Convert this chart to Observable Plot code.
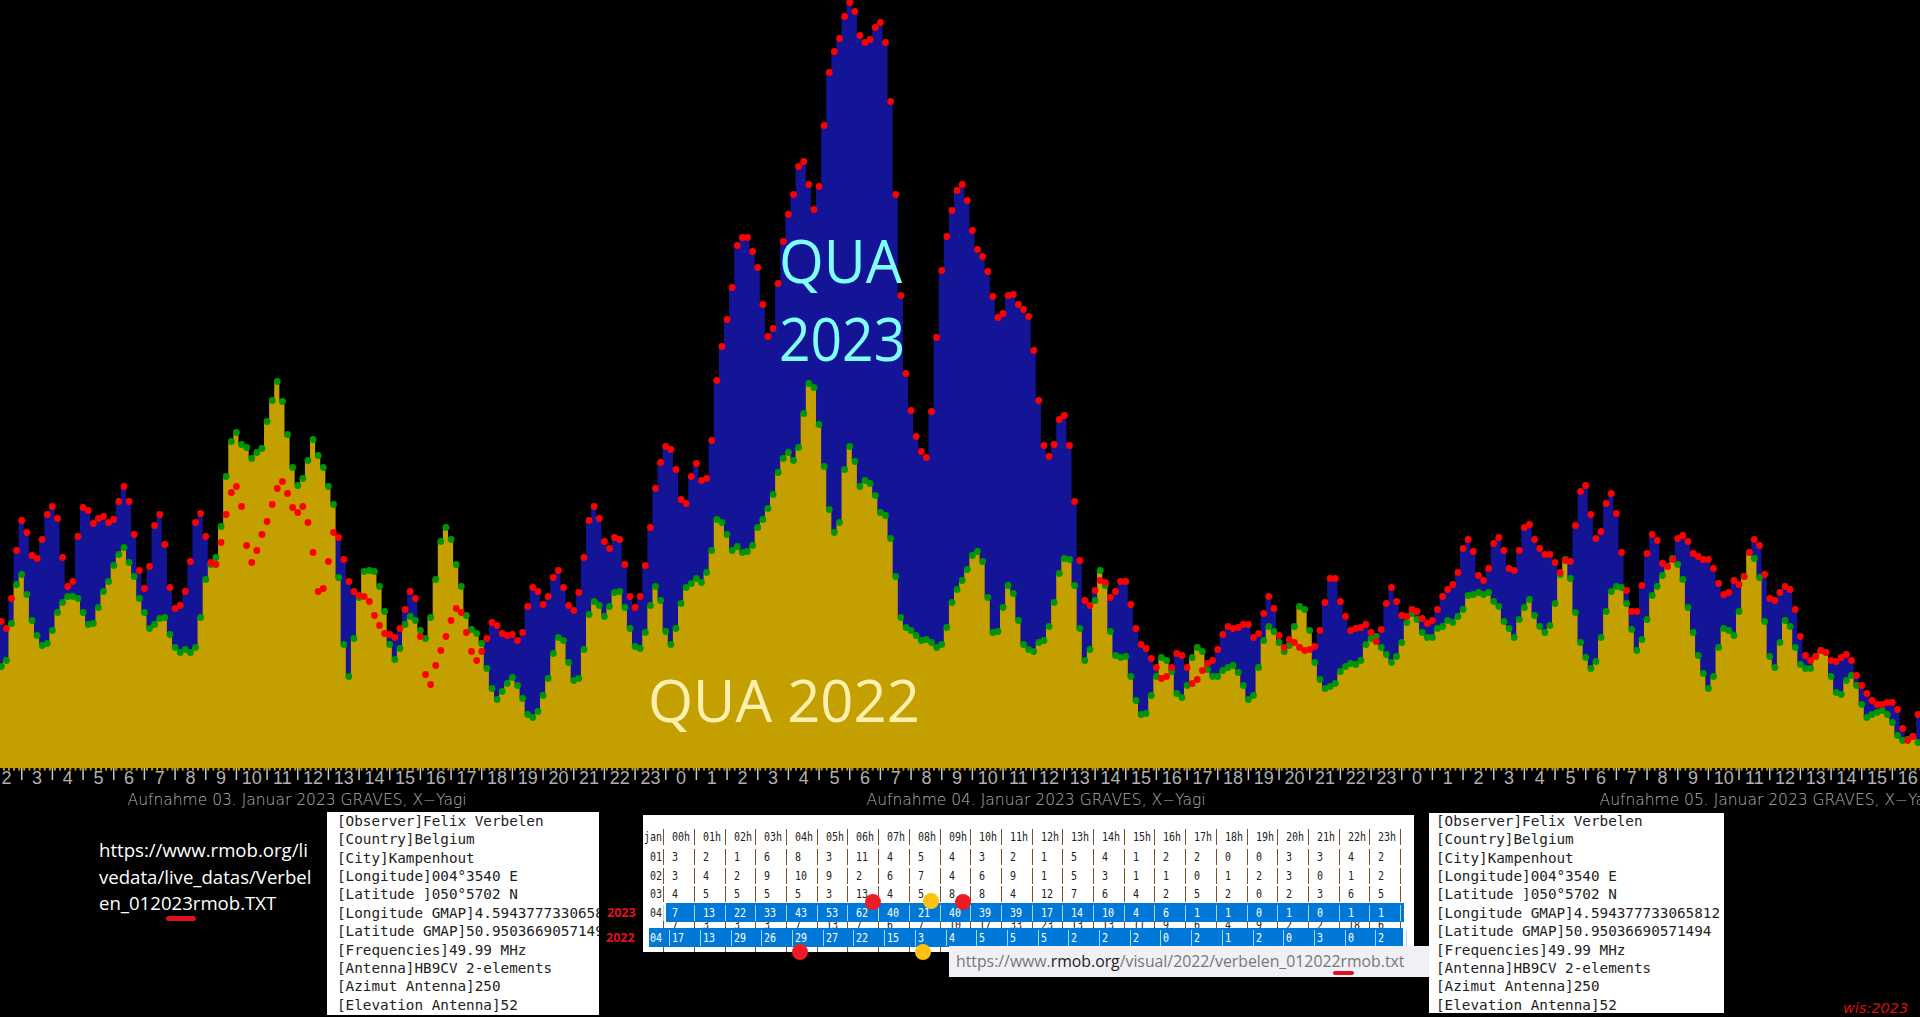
<!DOCTYPE html>
<html><head><meta charset="utf-8">
<script src="https://cdn.jsdelivr.net/npm/d3@7"></script>
<script src="https://cdn.jsdelivr.net/npm/@observablehq/plot@0.6"></script>
<style>
html,body{margin:0;padding:0;background:#000;width:1920px;height:1017px;overflow:hidden}
#chart{position:absolute;left:0;top:0}
.abs{position:absolute}
.panel{position:absolute;background:#fff;overflow:hidden;font-family:"DejaVu Sans Mono",monospace;color:#222}
.panel div{position:absolute;white-space:pre}
.cell{position:absolute;white-space:pre;font:13px/14px "DejaVu Sans Mono",monospace;transform:scaleX(.77);transform-origin:left center}
.sep{position:absolute;width:1px}
.qua{position:absolute;font-family:"Open Sans",sans-serif;font-weight:400;white-space:pre;transform-origin:left center}
</style></head><body>
<div id="chart"></div>
<script>
const h2023=[147,140,170,218,248,236,213,210,229,254,262,250,211,182,187,232,261,258,245,250,252,246,249,267,282,267,234,198,180,202,243,254,224,181,160,163,177,207,246,255,232,206,204,226,254,276,282,262,223,206,218,234,247,264,280,287,275,261,256,262,246,216,177,180,207,236,231,209,187,177,173,172,167,153,143,135,134,131,140,159,177,170,132,94,84,103,118,132,148,160,156,136,117,108,117,130,146,143,135,133,134,128,136,162,181,177,164,172,191,198,181,163,158,176,211,248,262,250,227,220,231,229,204,172,161,172,
203,241,280,306,322,319,299,269,265,292,305,288,290,328,388,422,449,481,523,531,531,517,501,464,432,440,485,527,554,574,602,607,584,559,582,643,696,717,730,752,766,757,733,726,729,741,746,726,667,574,473,395,358,332,317,311,357,431,498,532,558,578,584,568,538,519,512,497,472,451,455,473,474,464,459,452,418,368,323,312,324,349,353,323,267,208,168,163,178,188,186,171,177,187,187,164,140,124,120,110,101,90,92,101,115,113,101,85,89,98,105,108,119,134,142,140,141,144,144,131,135,155,172,160,133,
121,129,126,121,118,119,122,138,166,190,190,167,152,138,140,141,144,136,127,139,165,181,167,153,152,159,157,150,145,148,159,172,179,184,196,220,229,217,193,188,200,225,231,218,200,198,218,241,244,229,220,214,214,206,196,208,207,243,277,283,254,230,237,265,275,255,216,178,157,157,183,215,234,228,205,202,209,230,233,227,215,212,209,209,200,185,174,176,188,184,192,216,229,223,194,170,168,176,182,179,159,132,113,108,112,118,116,108,107,111,114,108,93,83,75,68,64,64,66,66,59,40,28,32,54];
const h2022=[102,108,145,184,194,174,148,133,123,125,138,156,166,172,172,170,156,144,145,161,177,187,203,214,221,206,192,170,156,140,144,150,151,134,121,116,119,116,121,151,189,204,211,242,292,327,336,324,321,310,316,320,347,368,387,367,334,301,283,290,308,329,313,301,282,264,191,124,92,130,171,197,198,197,182,157,124,109,120,144,152,148,138,130,151,189,227,241,229,204,182,153,139,135,125,100,80,69,77,85,91,83,70,54,51,57,73,90,115,131,128,106,88,90,119,154,167,163,152,162,176,177,161,140,122,120,
136,163,182,168,137,124,140,165,181,185,190,186,196,218,249,246,234,218,222,216,217,223,241,249,260,274,296,310,316,308,321,355,385,381,344,302,259,236,246,299,322,307,282,288,285,273,256,253,230,192,151,141,138,133,128,129,126,121,124,141,166,179,188,199,213,217,207,171,136,137,161,183,175,148,124,119,117,126,128,142,166,195,210,209,183,140,108,119,168,198,183,137,113,111,112,92,68,54,55,73,92,111,108,97,75,71,83,111,121,117,99,92,92,98,101,103,96,83,69,73,101,128,142,137,126,
117,123,142,162,159,138,106,89,80,82,85,97,102,105,104,108,124,130,132,121,114,106,112,126,146,155,149,136,131,131,140,142,148,146,152,159,173,174,176,174,176,167,162,147,140,131,149,161,169,153,142,136,143,165,194,209,190,156,126,111,100,107,131,157,177,182,181,165,139,118,129,149,173,182,193,202,210,204,189,161,136,113,95,80,92,121,140,138,133,157,192,216,210,191,147,112,101,126,148,142,121,104,100,100,112,118,116,92,76,74,88,93,83,64,51,54,56,58,54,46,33,28,29,32,26];
const hourLabels=[2,3,4,5,6,7,8,9,10,11,12,13,14,15,16,17,18,19,20,21,22,23,0,1,2,3,4,5,6,7,8,9,10,11,12,13,14,15,16,17,18,19,20,21,22,23,0,1,2,3,4,5,6,7,8,9,10,11,12,13,14,15,16];
const captions=["Aufnahme 03. Januar 2023 GRAVES, X\u2212Yagi","Aufnahme 04. Januar 2023 GRAVES, X\u2212Yagi","Aufnahme 05. Januar 2023 GRAVES, X\u2212Yagi"];
const captionBins=[24.7,169.3,312.7];
const infoRight=["[Observer]Felix Verbelen","[Country]Belgium","[City]Kampenhout","[Longitude]004\u00b03540 E","[Latitude ]050\u00b05702 N","[Longitude GMAP]4.594377733065812","[Latitude GMAP]50.95036690571494","[Frequencies]49.99 MHz","[Antenna]HB9CV 2-elements","[Azimut Antenna]250","[Elevation Antenna]52"];
const infoLeft=["[Observer]Felix Verbelen","[Country]Belgium","[City]Kampenhout","[Longitude]004\u00b03540 E","[Latitude ]050\u00b05702 N","[Longitude GMAP]4.5943777330658","[Latitude GMAP]50.9503669057149","[Frequencies]49.99 MHz","[Antenna]HB9CV 2-elements","[Azimut Antenna]250","[Elevation Antenna]52"];
const tblHours=d3.range(24).map(h=>String(h).padStart(2,"0")+"h");
const day01=[3,2,1,6,8,3,11,4,5,4,3,2,1,5,4,1,2,2,0,0,3,3,4,2];
const day02=[3,4,2,9,10,9,2,6,7,4,6,9,1,5,3,1,1,0,1,2,3,0,1,2];
const day03=[4,5,5,5,5,3,13,4,5,8,8,4,12,7,6,4,2,5,2,0,2,3,6,5];
const day04y23=[7,13,22,33,43,53,62,40,21,40,39,39,17,14,10,4,6,1,1,0,1,0,1,1];
const day04y22=[17,13,29,26,29,27,22,15,3,4,5,5,5,2,2,2,0,2,1,2,0,3,0,2];
const day05y23=[7,3,3,3,7,13,7,6,7,10,17,33,23,13,13,11,9,6,4,9,2,2,18,6];

const bins=h2023.map((_,i)=>i);
const binLabels=hourLabels.map((_,i)=>1+6*i);
const hourTicks=d3.range(4,376,6);
const labelOf=new Map(binLabels.map((b,i)=>[b,hourLabels[i]]));
const s23=bins.map(i=>({i,v:h2023[i]}));
const s22=h2022.map((v,i)=>({i,v}));
const xMin=-0.157,xMax=375.5;
const edgeX=(d,i,a)=>i===0?xMin:i===a.length-1?xMax:d.i;
const chart=Plot.plot({
  width:1920,height:1017,marginTop:0,marginLeft:0,marginRight:0,marginBottom:249,
  style:{background:"#000",color:"#aaa",overflow:"visible"},
  x:{domain:[xMin,xMax],range:[0,1920],axis:null},
  y:{domain:[0,768],range:[768,0],axis:null},
  marks:[
    Plot.areaY(s23,{x:edgeX,y:"v",curve:"step",fill:"#141496"}),
    Plot.areaY(s22,{x:edgeX,y:"v",curve:"step",fill:"#c49f00"}),
    Plot.ruleX(d3.range(0,376),{x:d=>d+0.5,y1:0,y2:-2.5,stroke:"#c49f00",strokeWidth:2}),
    Plot.ruleX(hourTicks,{x:d=>d,y1:0,y2:-12,stroke:"#c8c8c8",strokeWidth:1.5}),
    Plot.dot(s22,{x:"i",y:"v",r:3.4,fill:"#009600"}),
    Plot.dot(s23,{x:"i",y:"v",r:3.4,fill:"#ff0000"}),
    Plot.axisX({ticks:binLabels,tickFormat:d=>labelOf.get(d),tickSize:0,tickPadding:3,fontSize:18,fontFamily:"Liberation Sans",fill:"#b0b0b0",label:null}),
    Plot.text(captions,{x:(d,i)=>captionBins[i],y:-32,text:d=>d,textAnchor:"start",fontSize:15.5,fontFamily:"DejaVu Sans",fill:"#b4b4b4",fontWeight:200})
  ]
});
document.getElementById("chart").appendChild(chart);

function el(cls,css,txt,parent){const d=document.createElement("div");d.className=cls;d.style.cssText=css;if(txt!=null)d.textContent=txt;(parent||document.body).appendChild(d);return d;}
// in-chart headings
el("qua","left:779px;top:220px;font-size:60px;line-height:80px;color:#80ffff;transform:scaleX(.96)","QUA");
el("qua","left:779px;top:298px;font-size:60px;line-height:80px;color:#80ffff;transform:scaleX(.92)","2023");
el("qua","left:648px;top:660px;font-size:58px;line-height:80px;color:#fff0b0","QUA 2022");
// URL note
["https://www.rmob.org/li","vedata/live_datas/Verbel","en_012023rmob.TXT"].forEach((t,i)=>el("abs",`left:99px;top:${836+i*26.5}px;font:18.6px/27px "Open Sans",sans-serif;color:#fff;white-space:pre`,t));
el("abs","left:166px;top:916px;width:30px;height:5px;border-radius:3px;background:#e01020");
// info panels
function info(lines,l,t,w,h,tx,ty){const p=el("panel",`left:${l}px;top:${t}px;width:${w}px;height:${h}px;`);lines.forEach((s,i)=>el("",`left:${tx}px;top:${ty+i*18.36}px;font-size:14.3px;line-height:18px`,s,p));}
info(infoLeft,327,812,272,203,10,0);
// table
const tb=el("panel","left:643px;top:815px;width:771px;height:137px");
const ox=643,oy=815,sepX0=663.2,dx=30.7;
function row(yc,label,vals,o={}){
  const col=o.color||"#222",shift=o.shift||0;
  if(o.bg)el("abs",`left:${o.x1-ox}px;top:${yc-10-oy}px;width:${o.x2-o.x1}px;height:19px;background:${o.bg}`,null,tb);
  if(label)el("cell",`left:${(o.lx||644)-ox}px;top:${yc-7-oy}px;color:${o.lc||col}`,label,tb);
  for(let k=0;k<=24;k++){
    el("sep",`left:${sepX0+dx*k+shift-ox}px;top:${yc-8-oy}px;height:16px;background:${o.sep||"#7a5230"}`,null,tb);
    if(k<24&&vals)el("cell",`left:${sepX0+dx*k+9-ox}px;top:${yc-7-oy}px;color:${col}`,vals[k],tb);
  }
}
row(837,"jan",tblHours);
row(857," 01",day01);row(876," 02",day02);row(894," 03",day03);
row(925,"",day05y23);
row(950,"",null);
row(913," 04",day04y23,{bg:"#0078d7",x1:666,x2:1404,color:"#fff",lc:"#222",sep:"#a8d4f5"});
row(938," 04",day04y22,{bg:"#0078d7",x1:649,x2:1403,color:"#fff",sep:"#a8d4f5",shift:6});
// year tags
el("abs",'left:607px;top:906px;font:bold 12.5px/14px "Noto Sans",sans-serif;color:#e01020',"2023");
el("abs",'left:606px;top:931px;font:bold 12.5px/14px "Noto Sans",sans-serif;color:#e01020',"2022");
// coloured dots on the table
[[873,902,"#ed1c24"],[931,901,"#ffc20e"],[963,902,"#ed1c24"],[800,952,"#ed1c24"],[923,952,"#ffc20e"]].forEach(([x,y,c])=>el("abs",`left:${x-8}px;top:${y-8}px;width:16px;height:16px;border-radius:50%;background:${c}`));
// url box
const ub=el("abs",'left:949px;top:946px;width:484px;height:31px;background:#f0f0f5;font:15.8px/31px "Open Sans",sans-serif;color:#777;white-space:pre;padding-left:7px;box-sizing:border-box');
ub.innerHTML='https://www.<span style="color:#222">rmob.org</span>/visual/2022/verbelen_012022rmob.txt';
el("abs","left:1333px;top:971px;width:21px;height:3.5px;border-radius:2px;background:#e01020");
info(infoRight,1429,813,295,200,7,-1);
el("abs",'left:1843px;top:999px;font:italic 14.5px/18px "DejaVu Sans",sans-serif;color:#d81010',"wis:2023");
</script>
</body></html>
